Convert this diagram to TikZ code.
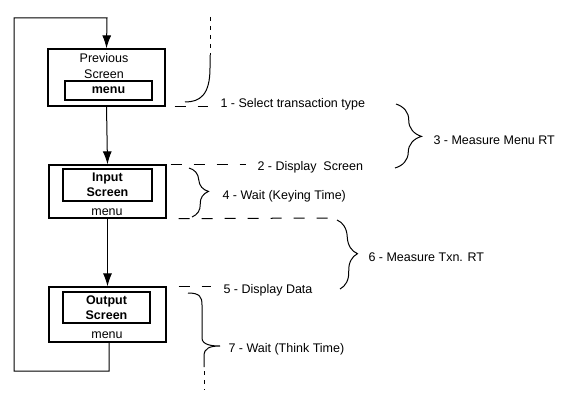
\documentclass[tikz,border=0pt]{standalone}
\usepackage{fontspec}
\setmainfont{Liberation Sans}
\usetikzlibrary{arrows.meta,decorations.pathreplacing}

\begin{document}
\begin{tikzpicture}[x=1pt, y=-1pt, line width=1pt,
  every node/.append style={font=\fontsize{12.5}{15}\selectfont, inner sep=0pt, align=center},
  outbox/.style={draw, line width=1.3pt, minimum width=117pt},
  inbox/.style={draw, line width=1.9pt, font=\fontsize{12.5}{15}\selectfont\bfseries},
  lbl/.style={anchor=west},
  lead/.style={dash pattern=on 11pt off 12pt, line width=1pt},
  dots/.style={dash pattern=on 4pt off 5pt, line width=1pt},
  flow/.style={-{Latex[length=13pt,width=9pt]}},
  brc/.style={decorate, decoration={brace, amplitude=#1}}]

  \useasboundingbox (0,0) rectangle (572,409);

  % screens
  \node[outbox, minimum height=57pt] (prev) at (106.5,77.5) {};
  \node at (104,58) {Previous};
  \node at (104,74) {Screen};
  \node[inbox, minimum width=87pt, minimum height=19pt] (prevmenu) at (108.5,90.5) {menu};

  \node[outbox, minimum height=53pt] (input) at (107.5,191.5) {};
  \node[inbox, minimum width=89pt, minimum height=32pt] (inputscr) at (107.5,185) {Input\\Screen};
  \node at (107,212) {menu};

  \node[outbox, minimum height=55pt] (output) at (107.5,314.5) {};
  \node[inbox, minimum width=87pt, minimum height=31pt] (outputscr) at (106.5,307.5) {Output\\Screen};
  \node at (107,335) {menu};

  % flow
  \draw[flow] (prev.south) -- (input.north);
  \draw[flow] (input.south) -- (output.north);
  \draw[flow] ([xshift=1.5pt]output.south) |- (14,371) |- (107,18) -- (prev.north);

  % labels
  \node[lbl] (l1) at (220,104) {1 - Select transaction type};
  \node[lbl] (l2) at (257,167) {2 - Display \ Screen};
  \node[lbl] (l3) at (433,140) {3 - Measure Menu RT};
  \node[lbl] (l4) at (222,196) {4 - Wait (Keying Time)};
  \node[lbl] (l5) at (223,290) {5 - Display Data};
  \node[lbl] (l6) at (368,257) {6 - Measure Txn. RT};
  \node[lbl] (l7) at (228,349) {7 - Wait (Think Time)};

  % time marks
  \draw[lead] ([xshift=9pt]prev.south east) -- ([xshift=-12pt]l1.west |- prev.south east);
  \draw[lead] ([xshift=4pt]input.north east) -- ([xshift=-11pt]l2.west |- input.north east);
  \coordinate (keyend) at (330,218);
  \draw[lead] ([xshift=12pt]input.south east) -- (keyend);
  \draw[lead] ([xshift=12pt]output.north east) -- ([xshift=-12pt]l5.west |- output.north east);

  % braces
  \draw[brc=26pt] (396,104) -- (395,168);
  \draw[brc=18pt] (189,168) -- (192,217);
  \draw[brc=19pt] (337,220) -- (340,289);

  % think time, carried over from the last cycle
  \draw[dots] (210,17) -- (210,55);
  \draw (210,55) -- (210,68) .. controls (210,95) and (200,102) .. (185,102);
  \draw (188,293) .. controls (200,293) and (202,297) .. (202,305) -- (202,338)
    .. controls (202,345) and (212,346) .. (220,346)
    .. controls (210,346) and (204,348) .. (204,356) -- (204,367);
  \draw[dots] (204,371) -- (204,390);

\end{tikzpicture}
\end{document}
